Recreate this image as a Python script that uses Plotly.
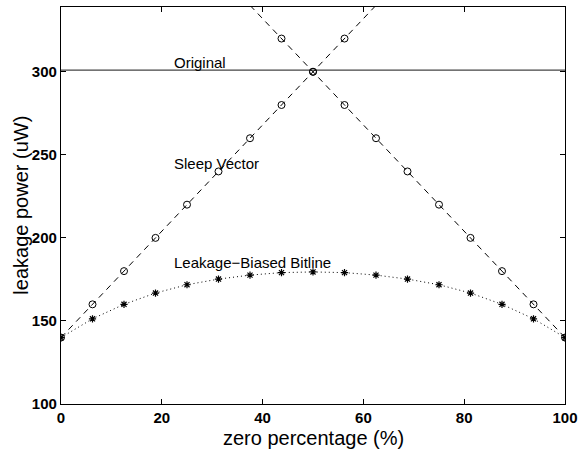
import plotly.graph_objects as go

x = [0, 6.25, 12.5, 18.75, 25, 31.25, 37.5, 43.75, 50, 56.25, 62.5, 68.75, 75, 81.25, 87.5, 93.75, 100]
sleep_up = [140, 160, 180, 200, 220, 240, 260, 280, 300, 320, 340, 360, 380, 400, 420, 440, 460]
sleep_down = [460, 440, 420, 400, 380, 360, 340, 320, 300, 280, 260, 240, 220, 200, 180, 160, 140]
bitline = [140, 151.3, 160, 166.8, 171.8, 175.2, 177.6, 179.1, 179.5, 179.1, 177.6, 175.2, 171.8, 166.8, 160, 151.3, 140]
original_x = [0, 100]
original_y = [301, 301]

labels = ["Original", "Sleep Vector", "Leakage\u2212Biased Bitline"]
label_x = [22, 22, 22]
label_y = [305.5, 244.5, 185]

x_ticks = [0, 20, 40, 60, 80, 100]
y_ticks = [100, 150, 200, 250, 300]
y_range = [100, 339]
FONT = "Liberation Sans, Arial, Helvetica"

fig = go.Figure()
fig.add_trace(go.Scatter(x=original_x, y=original_y, mode="lines",
                         line=dict(color="#444444", width=1.2), showlegend=False))
for ys in (sleep_up, sleep_down):
    fig.add_trace(go.Scatter(x=x, y=ys, mode="lines",
                             line=dict(color="black", width=1, dash="6px,5px"),
                             showlegend=False))
    vis = [(a, b) for a, b in zip(x, ys) if b <= y_range[1]]
    fig.add_trace(go.Scatter(x=[a for a, _ in vis], y=[b for _, b in vis], mode="markers",
                             marker=dict(symbol="circle-open", size=7, color="black",
                                         line=dict(width=1, color="black")),
                             showlegend=False))
fig.add_trace(go.Scatter(x=x, y=bitline, mode="lines+markers",
                         line=dict(color="black", width=1, dash="1px,3px"),
                         marker=dict(symbol="asterisk-open", size=6, color="black",
                                     line=dict(width=1.2, color="black")),
                         showlegend=False))

for t, tx, ty in zip(labels, label_x, label_y):
    fig.add_annotation(x=tx, y=ty, text=t, showarrow=False, xanchor="left", yanchor="middle",
                       font=dict(family=FONT, size=15, color="black"))

fig.add_annotation(xref="paper", yref="paper", x=-0.081, y=0.5, text="leakage power (uW)",
                   textangle=-90, showarrow=False, xanchor="center", yanchor="middle",
                   font=dict(family=FONT, size=20, color="black"))
fig.add_annotation(xref="paper", yref="paper", x=0.5, y=-0.0856, text="zero percentage (%)",
                   showarrow=False, xanchor="center", yanchor="middle",
                   font=dict(family=FONT, size=20, color="black"))

fig.update_layout(
    width=578, height=450,
    margin=dict(l=61, r=13, t=7, b=46),
    paper_bgcolor="white", plot_bgcolor="white",
    font=dict(family=FONT, color="black"),
)
fig.update_xaxes(range=[0, 100], tickvals=x_ticks, automargin=False,
                 ticks="inside", ticklen=5, tickwidth=1, tickcolor="black",
                 showline=True, linecolor="black", linewidth=1.3, mirror="ticks",
                 showgrid=False, zeroline=False,
                 tickfont=dict(family=FONT, size=15, color="black", weight="bold"))
fig.update_yaxes(range=y_range, tickvals=y_ticks, automargin=False,
                 ticks="inside", ticklen=5, tickwidth=1, tickcolor="black",
                 showline=True, linecolor="black", linewidth=1.3, mirror="ticks",
                 showgrid=False, zeroline=False,
                 tickfont=dict(family=FONT, size=15, color="black", weight="bold"))
fig.write_html("out.html", config={"displayModeBar": False},
               post_script="document.body.style.margin='0px';")
